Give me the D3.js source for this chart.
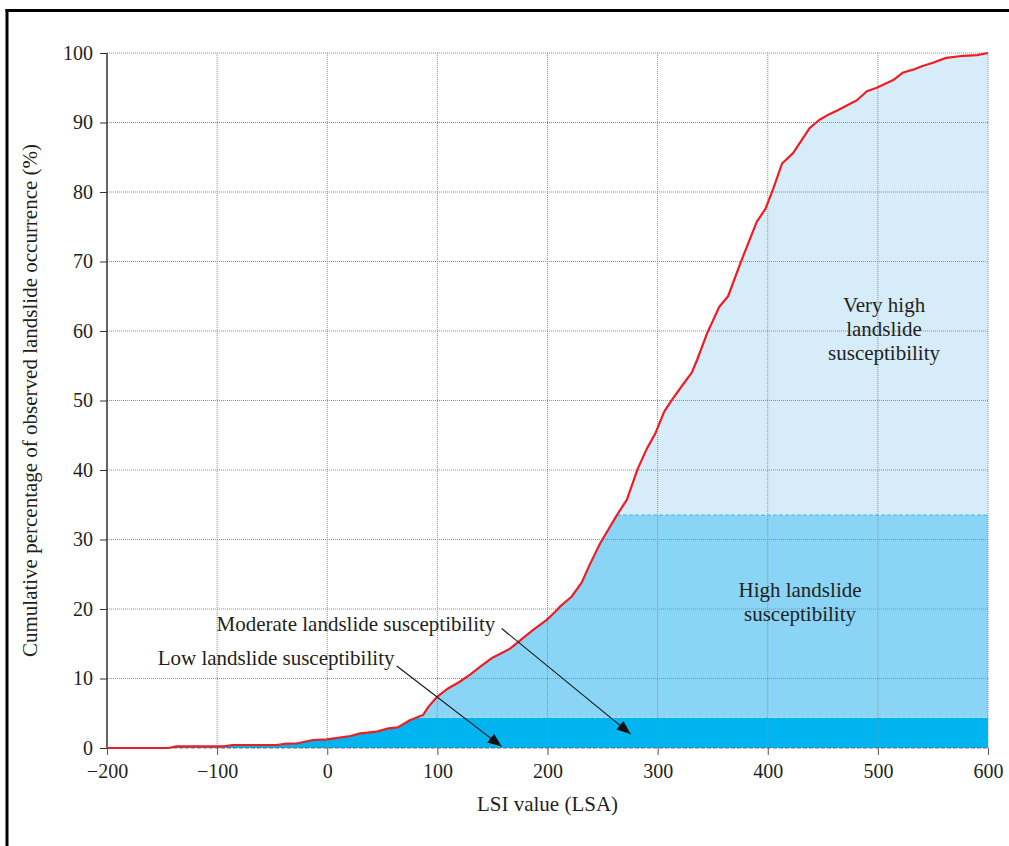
<!DOCTYPE html>
<html>
<head>
<meta charset="utf-8">
<script src="https://cdn.jsdelivr.net/npm/d3@7"></script>
<style>
  html, body { margin: 0; padding: 0; background: #fff; }
  svg { display: block; }
  text { font-family: "Liberation Serif", "Times New Roman", serif; fill: #231F20; }
</style>
</head>
<body>
<svg id="chart" width="1009" height="846"></svg>
<script>
// ---- Data ----
const lsiValues = [-200,-144,-137,-94,-86,-46,-37,-28,-13,0,21,30,45,54,64,75,87,92,100,110,120,130,139,150,166,187,199,207,211,222,231,239,248,263,272,282,290,298,306,313,323,331,336,345,356,364,375,390,398,405,413,423,438,447,456,464,481,490,499,514,523,532,540,550,562,578,590,600];
const cumulativePct = [0,0,0.24,0.24,0.43,0.43,0.62,0.65,1.15,1.25,1.73,2.1,2.35,2.78,2.97,4.0,4.75,5.95,7.4,8.6,9.5,10.6,11.7,13.0,14.3,17.0,18.4,19.6,20.3,21.8,23.8,26.6,29.5,33.5,35.7,40.2,43.0,45.3,48.4,50.1,52.3,54.0,55.9,59.7,63.5,65.0,69.7,75.7,77.6,80.5,84.1,85.6,89.2,90.4,91.2,91.8,93.2,94.5,95.0,96.1,97.2,97.6,98.1,98.6,99.3,99.6,99.7,100];
const bandLower = [0, 4.4, 33.5];
const bandUpper = [4.4, 33.5, 100];
const xTicks = [-200,-100,0,100,200,300,400,500,600];
const yTicks = [0,10,20,30,40,50,60,70,80,90,100];
const xTickLabels = ["\u2212200","\u2212100","0","100","200","300","400","500","600"];
const yTickLabels = ["0","10","20","30","40","50","60","70","80","90","100"];

const bandColors = ["#00B5EF", "#8AD5F5", "#D6EDF9"];

const svg = d3.select("#chart");
const x = d3.scaleLinear().domain([-200, 600]).range([107, 988]);
const y = d3.scaleLinear().domain([0, 100]).range([748, 53]);

// frame
svg.append("line").attr("x1", 7).attr("x2", 7).attr("y1", 9).attr("y2", 846)
  .attr("stroke", "#000").attr("stroke-width", 3);
svg.append("line").attr("x1", 5.5).attr("x2", 1009).attr("y1", 10.5).attr("y2", 10.5)
  .attr("stroke", "#000").attr("stroke-width", 3);

const pts = lsiValues.map((v, i) => [v, cumulativePct[i]]);

// clip: area under curve
const areaGen = d3.area().x(d => x(d[0])).y0(y(0)).y1(d => y(d[1]));
svg.append("clipPath").attr("id", "under")
  .append("path").attr("d", areaGen(pts));

const fills = svg.append("g").attr("clip-path", "url(#under)");
fills.selectAll("rect").data(bandLower).join("rect")
  .attr("x", x(-200)).attr("width", x(600) - x(-200))
  .attr("y", (d, i) => y(bandUpper[i]))
  .attr("height", (d, i) => y(d) - y(bandUpper[i]))
  .attr("fill", (d, i) => bandColors[i]);

// band boundary dashed lines
fills.append("line").attr("x1", x(-200)).attr("x2", x(600))
  .attr("y1", y(bandUpper[0])).attr("y2", y(bandUpper[0]))
  .attr("stroke", "#A6DFF7").attr("stroke-width", 1.2).attr("stroke-dasharray", "4,2");
fills.append("line").attr("x1", x(-200)).attr("x2", x(600))
  .attr("y1", y(bandUpper[1])).attr("y2", y(bandUpper[1]))
  .attr("stroke", "#4FC3EF").attr("stroke-width", 1.5).attr("stroke-dasharray", "4,2");

// gridlines
const grid = svg.append("g");
grid.selectAll(".hg").data(yTicks.filter(d => d > 0)).join("line")
  .attr("x1", x(-200)).attr("x2", x(600))
  .attr("y1", d => y(d)).attr("y2", d => y(d))
  .attr("stroke", "#8c8c8c").attr("stroke-width", 1).attr("stroke-dasharray", "1,1");
grid.selectAll(".vg").data(xTicks.filter(d => d > -200)).join("line")
  .attr("x1", d => x(d)).attr("x2", d => x(d))
  .attr("y1", y(100)).attr("y2", y(0))
  .attr("stroke", "#8c8c8c").attr("stroke-width", 1).attr("stroke-dasharray", "1,1");

// x baseline (dashed gray) and ticks
svg.append("line").attr("x1", x(-200)).attr("x2", x(600)).attr("y1", y(0)).attr("y2", y(0))
  .attr("stroke", "#6d6d6d").attr("stroke-width", 1.2).attr("stroke-dasharray", "4,2");
const xAxis = d3.axisBottom(x).tickValues(xTicks).tickSize(7).tickPadding(9)
  .tickFormat((d, i) => xTickLabels[i]);
const gx = svg.append("g").attr("transform", `translate(0,${y(0)})`).call(xAxis);
gx.select(".domain").remove();
gx.selectAll(".tick line").attr("stroke", "#555");
gx.selectAll(".tick text").attr("font-size", 20).attr("font-family", "Liberation Serif").attr("fill", "#231F20");

// y axis
const yAxis = d3.axisLeft(y).tickValues(yTicks).tickSize(7).tickPadding(7)
  .tickFormat((d, i) => yTickLabels[i]);
const gy = svg.append("g").attr("transform", `translate(${x(-200)},0)`).call(yAxis);
gy.select(".domain").attr("stroke", "#111").attr("stroke-width", 1.3).attr("d", `M0,${y(100)}V${y(0)}`);
gy.selectAll(".tick line").attr("stroke", "#333");
gy.selectAll(".tick text").attr("font-size", 20).attr("font-family", "Liberation Serif").attr("fill", "#231F20");

// curve
svg.append("path").datum(pts)
  .attr("d", d3.line().x(d => x(d[0])).y(d => y(d[1])))
  .attr("fill", "none").attr("stroke", "#EE1C25").attr("stroke-width", 2.2)
  .attr("stroke-linejoin", "round");

// axis titles
svg.append("text").attr("x", (x(-200) + x(600)) / 2).attr("y", 811)
  .attr("text-anchor", "middle").attr("font-size", 21).text("LSI value (LSA)");
svg.append("text").attr("transform", `translate(37,${(y(0) + y(100)) / 2}) rotate(-90)`)
  .attr("text-anchor", "middle").attr("font-size", 21)
  .text("Cumulative percentage of observed landslide occurrence (%)");

// annotations
function block(lines, cx, cyBase, anchor) {
  const t = svg.append("text").attr("font-size", 21).attr("text-anchor", anchor);
  lines.forEach((l, i) => t.append("tspan").attr("x", x(cx)).attr("y", y(cyBase) + i * 24).text(l));
}
block(["Very high", "landslide", "susceptibility"], 505.6, 62.8, "middle");
block(["High landslide", "susceptibility"], 429.3, 21.7, "middle");
block(["Moderate landslide susceptibility"], -100.5, 16.8, "start");
block(["Low landslide susceptibility"], -154, 11.9, "start");

svg.append("defs").append("marker").attr("id", "arrow")
  .attr("viewBox", "0 0 10 10").attr("refX", 10).attr("refY", 5)
  .attr("markerWidth", 14).attr("markerHeight", 14).attr("markerUnits", "userSpaceOnUse")
  .attr("orient", "auto")
  .append("path").attr("d", "M0,1 L10,5 L0,9 Z").attr("fill", "#111");

const arrows = [
  { from: [63.1, 11.8], to: [158.4, 0.2] },
  { from: [158.4, 17.2], to: [275.5, 2.0] }
];
svg.selectAll(".arr").data(arrows).join("line")
  .attr("x1", d => x(d.from[0])).attr("y1", d => y(d.from[1]))
  .attr("x2", d => x(d.to[0])).attr("y2", d => y(d.to[1]))
  .attr("stroke", "#111").attr("stroke-width", 1.1)
  .attr("marker-end", "url(#arrow)");
</script>
</body>
</html>
